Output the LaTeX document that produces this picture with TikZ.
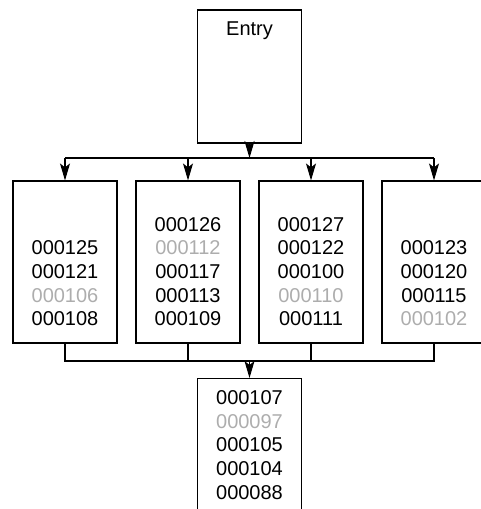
\documentclass[tikz,border=0pt]{standalone}
\usepackage{fontspec}
\setmainfont{Liberation Sans}
\usetikzlibrary{positioning,arrows.meta}
\colorlet{faded}{black!32}

\begin{document}
\begin{tikzpicture}[x=1pt, y=-1pt, line width=1.1pt,
        blk/.style={draw, minimum width=104pt, inner sep=0pt},
        ids/.style={align=center, inner sep=0pt, font=\fontsize{20}{23.7}\selectfont},
        arr/.style={-{Stealth[length=17pt, width=10pt, inset=4pt]}}]
    \clip (0,0) rectangle (481,509);
    % entry block
    \node[blk, minimum height=133pt] (entry) at (249.5,76.5) {};
    \node[ids, below=12pt of entry.north] (entrytxt) {Entry};
    % the four blocks
    \node[blk, minimum height=162pt] (b1) at (65,262) {};
    \node[blk, minimum height=162pt] (b2) at (188,262) {};
    \node[blk, minimum height=162pt] (b3) at (311,262) {};
    \node[blk, minimum height=162pt] (b4) at (434,262) {};
    \node[ids, above=17pt of b1.south] (t1) {000125\\000121\\\textcolor{faded}{000106}\\000108};
    \node[ids, above=17pt of b2.south] (t2) {000126\\\textcolor{faded}{000112}\\000117\\000113\\000109};
    \node[ids, above=17pt of b3.south] (t3) {000127\\000122\\000100\\\textcolor{faded}{000110}\\000111};
    \node[ids, above=17pt of b4.south] (t4) {000123\\000120\\000115\\\textcolor{faded}{000102}};
    % result block
    \node[blk, minimum height=162pt, anchor=north] (res) at (249.5,378) {};
    \node[ids, below=12pt of res.north] (t5) {000107\\\textcolor{faded}{000097}\\000105\\000104\\000088};
    % upper bus
    \coordinate (split) at (249.5,158);
    \draw[arr] (entry.south) -- (split);
    \draw (b1.north |- split) -- (b4.north |- split);
    \draw[arr] (b1.north |- split) -- (b1.north);
    \draw[arr] (b2.north |- split) -- (b2.north);
    \draw[arr] (b3.north |- split) -- (b3.north);
    \draw[arr] (b4.north |- split) -- (b4.north);
    % lower bus
    \coordinate (merge) at (249.5,361);
    \draw (b1.south) -- (b1.south |- merge) -- (b4.south |- merge) -- (b4.south);
    \draw (b2.south) -- (b2.south |- merge);
    \draw (b3.south) -- (b3.south |- merge);
    \draw[arr] (merge) -- (res.north);
\end{tikzpicture}
\end{document}
